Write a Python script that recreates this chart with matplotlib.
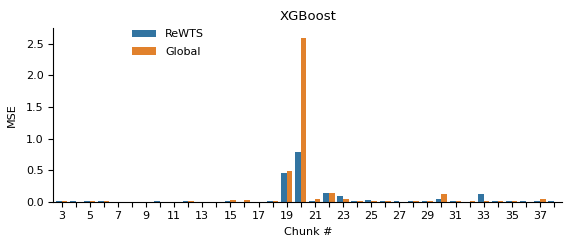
import numpy as np
import matplotlib.pyplot as plt

# MSE per chunk for XGBoost
chunks = list(range(3, 39))
rewts = [0.005, 0.004, 0.006, 0.012, 0.003, 0.002, 0.003, 0.004, 0.003, 0.012, 0.003, 0.003,
         0.004, 0.003, 0.003, 0.012, 0.45, 0.78, 0.005, 0.13, 0.09, 0.005, 0.02, 0.005,
         0.004, 0.01, 0.006, 0.035, 0.005, 0.003, 0.12, 0.012, 0.006, 0.004, 0.004, 0.012]
globl = [0.008, 0.003, 0.004, 0.005, 0.002, 0.003, 0.002, 0.003, 0.003, 0.004, 0.003, 0.003,
         0.03, 0.025, 0.003, 0.004, 0.49, 2.6, 0.04, 0.14, 0.05, 0.012, 0.012, 0.012,
         0.003, 0.012, 0.006, 0.12, 0.012, 0.006, 0.004, 0.004, 0.004, 0.003, 0.04, 0.003]

fig, ax = plt.subplots(figsize=(5.71, 2.49), dpi=100)
fig.subplots_adjust(left=0.093, right=0.985, top=0.887, bottom=0.19)

x = np.arange(len(chunks))
w = 0.4
ax.bar(x - w / 2, rewts, w, color='#3274a1', label='ReWTS')
ax.bar(x + w / 2, globl, w, color='#e1812c', label='Global')

ax.set_xticks(x)
ax.set_xticklabels([str(c) if c % 2 == 1 else '' for c in chunks])
ax.set_xlim(-0.6, len(chunks) - 0.4)
ax.set_ylim(0, 2.75)
ax.set_yticks([0, 0.5, 1.0, 1.5, 2.0, 2.5])
ax.tick_params(labelsize=8)
ax.set_xlabel('Chunk #', fontsize=8, labelpad=4)
ax.set_ylabel('MSE', fontsize=8, labelpad=6)
ax.set_title('XGBoost', fontsize=9.5)
ax.spines['top'].set_visible(False)
ax.spines['right'].set_visible(False)
ax.legend(loc='upper left', bbox_to_anchor=(0.135, 1.05), frameon=False, fontsize=8,
          handlelength=2.2, labelspacing=0.7)

plt.savefig('out.png', dpi=100)
